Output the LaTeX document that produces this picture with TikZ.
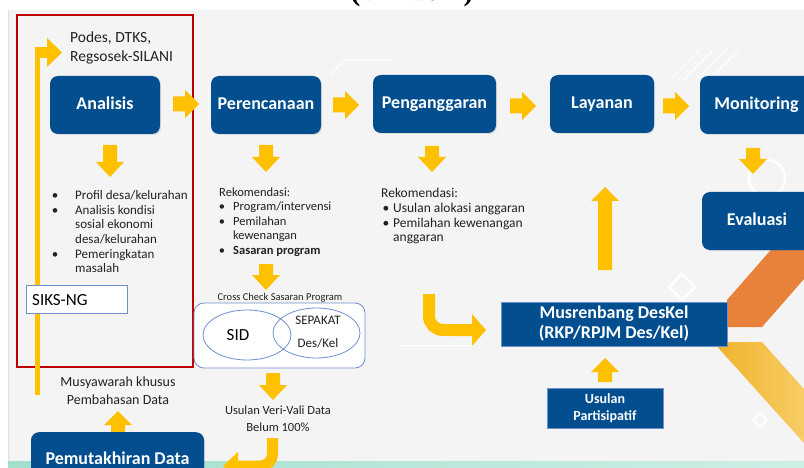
\documentclass[tikz,border=0pt]{standalone}
\usepackage{fontspec}
\setmainfont{Carlito}
\newfontfamily\serifb{Liberation Serif}
\usetikzlibrary{shadows}
\definecolor{dblue}{HTML}{034E8E}
\definecolor{yel}{HTML}{FFC000}
\definecolor{redb}{HTML}{C00000}
\definecolor{bgg}{HTML}{F4F4F4}
\definecolor{lblue}{HTML}{7090CC}
\definecolor{orng}{HTML}{E8823A}
\definecolor{ybandA}{HTML}{F2B22A}
\definecolor{ybandB}{HTML}{F6CD66}
\definecolor{txtc}{HTML}{222222}
\definecolor{tealA}{HTML}{A2DFCE}
\definecolor{tealB}{HTML}{CDEFE6}
\tikzset{
  yarr/.style={fill=yel},
  bbox/.style={fill=dblue, rounded corners=8pt, inner sep=0pt, text=white,
    font=\fontsize{18}{20}\selectfont\bfseries, align=center,
    text height=12.5pt, text depth=3.5pt,
    drop shadow={opacity=0.18, shadow xshift=1.2pt, shadow yshift=-1.2pt}},
  sbox/.style={fill=dblue, draw=lblue, line width=0.8pt, inner sep=0pt, text=white, align=center},
  ltxt/.style={inner sep=0pt, anchor=base west, text=txtc},
  ctxt/.style={inner sep=0pt, anchor=base, text=txtc},
  deco/.style={draw=white, line width=1pt},
}
\newcommand\yarR[3]{\fill[yarr] (#1,{#3-7.5}) -- ({#2-14},{#3-7.5}) -- ({#2-14},{#3-14}) -- (#2,#3) -- ({#2-14},{#3+14}) -- ({#2-14},{#3+7.5}) -- (#1,{#3+7.5}) -- cycle;}
\newcommand\yarD[3]{\fill[yarr] ({#1-7},#2) -- ({#1+7},#2) -- ({#1+7},{#3-15}) -- ({#1+14},{#3-15}) -- (#1,#3) -- ({#1-14},{#3-15}) -- ({#1-7},{#3-15}) -- cycle;}
\newcommand\yarU[3]{\fill[yarr] ({#1-7},#2) -- ({#1+7},#2) -- ({#1+7},{#3+14}) -- ({#1+14},{#3+14}) -- (#1,#3) -- ({#1-14},{#3+14}) -- ({#1-7},{#3+14}) -- cycle;}
\begin{document}
\begin{tikzpicture}[x=1pt,y=-1pt]
\useasboundingbox (0,0) rectangle (804,468);
\fill[white] (0,0) rectangle (804,468);
\fill[bgg] (8,10) rectangle (804,468);
\draw[black!12, line width=0.6pt] (8.3,10) -- (8.3,468);
% title (cut off at the top edge, as in the reference)
\node[inner sep=0pt, anchor=base, font=\fontsize{30}{30}\serifb\bfseries] (title) at (412,0.5) {(DMD/K)};
% background decorations
\draw[deco] (330,75) -- (345,60) -- (395,60);
\draw[deco] (670,80) -- (700,50);
\draw[deco] (683,80) -- (713,50);
\draw[deco] (696,80) -- (726,50);
\draw[deco] (709,80) -- (739,50);
\draw[deco] (400,345) -- (475,345);
\draw[deco] (435,318) -- (455,338);
\draw[deco, line width=2.5pt] (767,178) circle (18);
\draw[deco, line width=2.5pt] (682,274) -- (695,287) -- (682,300) -- (669,287) -- cycle;
\draw[deco, line width=2pt] (760,413) -- (767,420) -- (760,427) -- (753,420) -- cycle;
% coloured bands
\fill[orng] (727,300) -- (804,212) -- (804,279) -- (762,327) -- (727,327) -- cycle;
\shade[left color=ybandA, right color=ybandB] (713,342) -- (762,342) -- (804,389) -- (804,443) -- cycle;
% bottom strip
\shade[left color=tealA, right color=tealB] (8,461) rectangle (804,468);
% red frame
\draw[redb, line width=1.3pt] (17,15) rectangle (193,367);
% yellow L line
\fill[yel] (35,47) rectangle (40,395);
\fill[yel] (35,47) rectangle (48,58);
\fill[yel] (47,38) -- (62,52.5) -- (47,67) -- cycle;
\node[ltxt, font=\fontsize{15.5}{19}\selectfont] (src1) at (70,42.5) {Podes, DTKS,};
\node[ltxt, font=\fontsize{15.5}{19}\selectfont] (src2) at (70,62) {Regsosek-SILANI};
% main boxes
\node[bbox, minimum width=110pt, minimum height=58pt] (analisis) at (105,105) {Analisis};
\node[bbox, minimum width=110pt, minimum height=58pt] (peren) at (266,105) {Perencanaan};
\node[bbox, minimum width=123pt, minimum height=58pt] (pengang) at (434.5,104) {Penganggaran};
\node[bbox, minimum width=104pt, minimum height=58pt] (layanan) at (602,104) {Layanan};
\node[bbox, minimum width=113pt, minimum height=58pt] (monitor) at (756.5,105) {Monitoring};
\node[bbox, minimum width=110pt, minimum height=58pt] (evaluasi) at (757,221) {Evaluasi};
\node[sbox, minimum width=226pt, minimum height=44pt, font=\fontsize{18}{20}\selectfont\bfseries,
  drop shadow={opacity=0.18, shadow xshift=1.2pt, shadow yshift=-1.2pt}] (musren) at (614,324) {Musrenbang DesKel\\(RKP/RPJM Des/Kel)};
\node[sbox, minimum width=116pt, minimum height=40pt, font=\fontsize{14}{17}\selectfont\bfseries] (usulan) at (605,408) {Usulan\\Partisipatif};
% arrows
\yarR{173}{199}{104}
\yarR{333}{359}{105}
\yarR{510}{536}{106}
\yarR{663}{689}{106}
\yarD{110}{145}{177}
\yarD{266}{145}{172}
\yarD{432}{146}{172}
\yarD{753}{148}{174}
\yarD{266}{264}{290}
\yarD{273}{373}{400}
\yarU{605}{270}{187}
\yarU{118}{435}{411}
\yarU{605}{382}{358}
\draw[yel, line width=12pt, rounded corners=14pt] (429,294) |- (473,330);
\fill[yel] (472,314) -- (486,330) -- (472,346) -- cycle;
\draw[yel, line width=11pt, rounded corners=12pt] (272.5,438) |- (237,466);
\fill[yel] (238,452) -- (223,466) -- (238,480) -- cycle;
% Analisis list
\begin{scope}[every node/.style={font=\fontsize{13}{15}\selectfont}]
\node[ctxt] (ab1) at (55,199.5) {\textbullet};
\node[ctxt] (ab2) at (55,214.5) {\textbullet};
\node[ctxt] (ab3) at (55,258.5) {\textbullet};
\node[ltxt] (a1) at (75,199.5) {Profil desa/kelurahan};
\node[ltxt] (a2) at (75,214.5) {Analisis kondisi};
\node[ltxt] (a3) at (75,228.5) {sosial ekonomi};
\node[ltxt] (a4) at (75,243.5) {desa/kelurahan};
\node[ltxt] (a5) at (75,258.5) {Pemeringkatan};
\node[ltxt] (a6) at (75,272.5) {masalah};
\end{scope}
% Perencanaan list
\begin{scope}[every node/.style={font=\fontsize{12.5}{15}\selectfont}]
\node[ltxt] (p0) at (219,196.5) {Rekomendasi:};
\node[ctxt] (pb1) at (222,211) {\textbullet};
\node[ctxt] (pb2) at (222,225.5) {\textbullet};
\node[ctxt] (pb3) at (222,254.5) {\textbullet};
\node[ltxt] (p1) at (233,211) {Program/intervensi};
\node[ltxt] (p2) at (233,225.5) {Pemilahan};
\node[ltxt] (p3) at (233,240) {kewenangan};
\node[ltxt, font=\fontsize{12.5}{15}\selectfont\bfseries] (p4) at (233,254.5) {Sasaran program};
\end{scope}
% Penganggaran list
\begin{scope}[every node/.style={font=\fontsize{13.5}{15}\selectfont}]
\node[ltxt] (g0) at (381,197.5) {Rekomendasi:};
\node[ctxt] (gb1) at (386,212) {\textbullet};
\node[ctxt] (gb2) at (386,227) {\textbullet};
\node[ltxt] (g1) at (393,212) {Usulan alokasi anggaran};
\node[ltxt] (g2) at (393,227) {Pemilahan kewenangan};
\node[ltxt] (g3) at (393,241) {anggaran};
\end{scope}
% SIKS-NG
\node[draw=lblue, fill=white, line width=0.8pt, minimum width=101pt, minimum height=28pt, inner sep=0pt] (siks) at (76.5,299) {};
\node[ltxt, font=\fontsize{17}{19}\selectfont, text=black] (sikst) at (32,305) {SIKS-NG};
% cross check
\node[ctxt, font=\fontsize{10.5}{12}\selectfont] (cc) at (280,300.5) {Cross Check Sasaran Program};
\draw[draw=lblue, fill=white, line width=0.8pt, rounded corners=10pt] (194,303) rectangle (365,368);
\draw[lblue, line width=0.8pt] (247,335) ellipse [x radius=44, y radius=25];
\draw[lblue, line width=0.8pt] (316.5,333) ellipse [x radius=43.5, y radius=25];
\node[ctxt, font=\fontsize{17}{19}\selectfont, text=black] (sid) at (238,340) {SID};
\node[ctxt, font=\fontsize{13}{15}\selectfont] (sep1) at (318,324.5) {SEPAKAT};
\node[ctxt, font=\fontsize{13}{15}\selectfont] (sep2) at (318,347.5) {Des/Kel};
% other labels
\node[ctxt, font=\fontsize{14}{17}\selectfont] (mus1) at (118,386.5) {Musyawarah khusus};
\node[ctxt, font=\fontsize{14}{17}\selectfont] (mus2) at (118,404.5) {Pembahasan Data};
\node[ctxt, font=\fontsize{12.5}{15}\selectfont] (uv1) at (278,414) {Usulan Veri-Vali Data};
\node[ctxt, font=\fontsize{12.5}{15}\selectfont] (uv2) at (278,431) {Belum 100\%};
% Pemutakhiran
\node[bbox, minimum width=173pt, minimum height=56pt, anchor=north] (pemut) at (117.5,432) {};
\node[inner sep=0pt, text=white, font=\fontsize{18}{20}\selectfont\bfseries] (pemutt) at (117.5,458) {Pemutakhiran Data};
\end{tikzpicture}
\end{document}
